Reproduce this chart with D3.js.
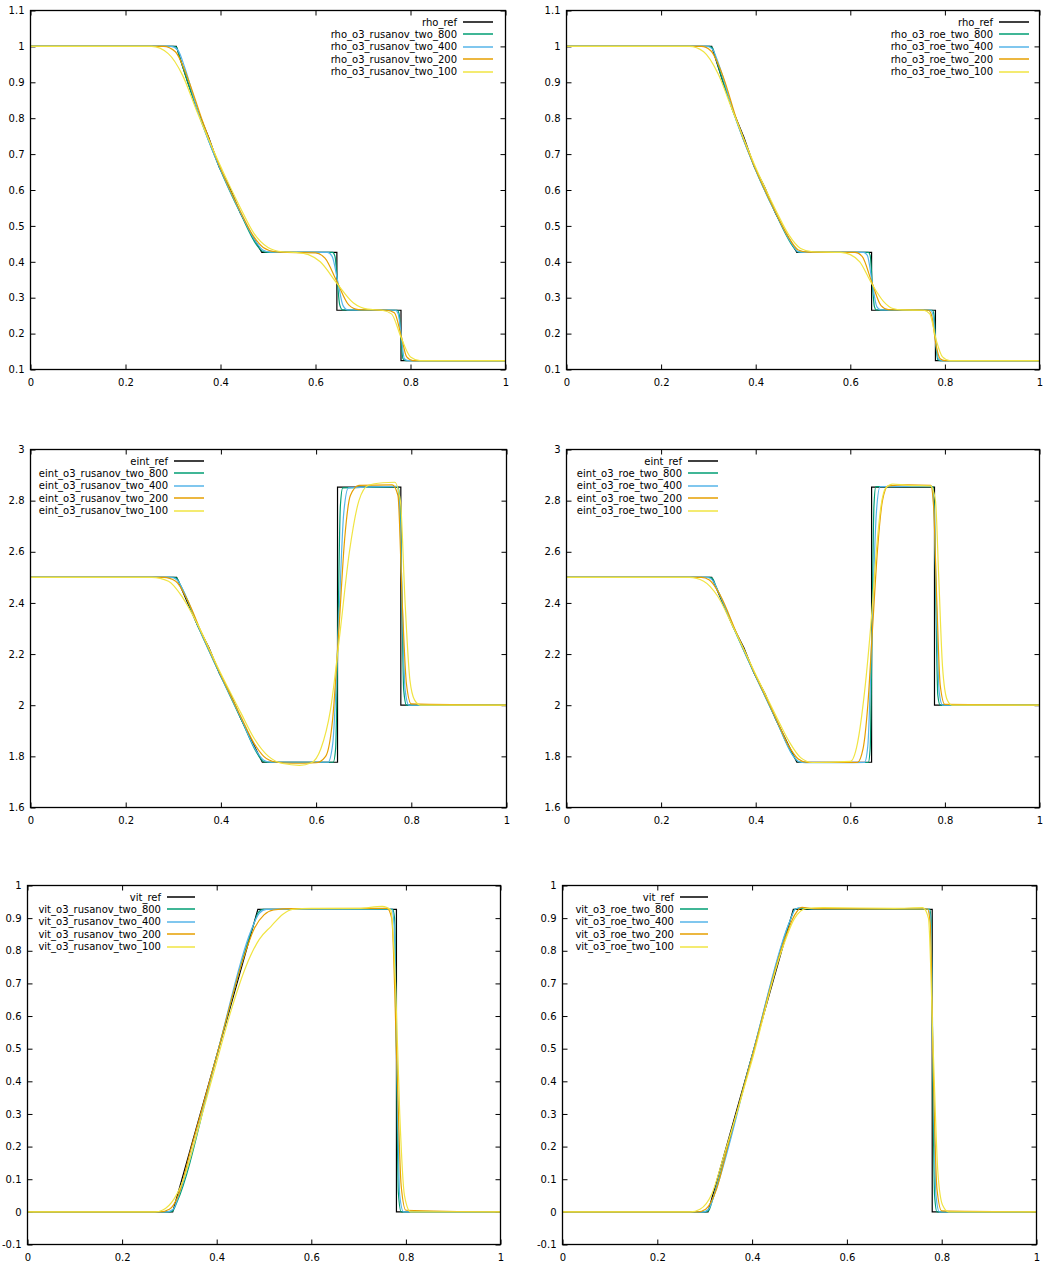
<!DOCTYPE html>
<html>
<head>
<meta charset="utf-8">
<script src="https://cdn.jsdelivr.net/npm/d3@7"></script>
<style>
  body { margin: 0; background: #fff; }
  svg { display: block; font-family: "DejaVu Sans", sans-serif; }
</style>
</head>
<body>
<div id="chart"></div>
<script>
// tick values
var xTicks = [0, 0.2, 0.4, 0.6, 0.8, 1];
var rhoTicks = [0.1, 0.2, 0.3, 0.4, 0.5, 0.6, 0.7, 0.8, 0.9, 1, 1.1];
var eintTicks = [1.6, 1.8, 2, 2.2, 2.4, 2.6, 2.8, 3];
var vitTicks = [-0.1, 0, 0.1, 0.2, 0.3, 0.4, 0.5, 0.6, 0.7, 0.8, 0.9, 1];

var resolutions = ["800", "400", "200", "100"];

// reference solutions
var rhoRef = [[0,1],[0.307,1],[0.33,0.904],[0.352,0.82],[0.375,0.747],[0.397,0.665],[0.42,0.605],[0.442,0.535],[0.465,0.477],[0.487,0.426],[0.645,0.426],[0.645,0.265],[0.78,0.265],[0.78,0.125],[1,0.125]];
var eintRef = [[0,2.5],[0.307,2.5],[0.33,2.401],[0.352,2.308],[0.375,2.225],[0.397,2.124],[0.42,2.044],[0.442,1.947],[0.465,1.86],[0.487,1.777],[0.645,1.777],[0.645,2.853],[0.778,2.853],[0.778,2.0],[1,2.0]];
var vitRef = [[0,0],[0.307,0],[0.487,0.927],[0.78,0.927],[0.78,0],[1,0]];

// rusanov
var rhoRus800 = [[0,1],[0.3,1],[0.307,0.998],[0.315,0.965],[0.352,0.82],[0.397,0.665],[0.442,0.535],[0.48,0.44],[0.49,0.428],[0.5,0.426],[0.636,0.426],[0.641,0.415],[0.646,0.345],[0.651,0.28],[0.657,0.266],[0.772,0.265],[0.776,0.255],[0.78,0.19],[0.784,0.13],[0.79,0.125],[1,0.125]];
var rhoRus400 = [[0,1],[0.295,1],[0.31,0.99],[0.325,0.94],[0.352,0.82],[0.397,0.666],[0.442,0.537],[0.475,0.455],[0.49,0.432],[0.505,0.427],[0.625,0.426],[0.635,0.415],[0.647,0.345],[0.658,0.278],[0.668,0.266],[0.768,0.265],[0.774,0.255],[0.781,0.19],[0.787,0.13],[0.795,0.125],[1,0.125]];
var rhoRus200 = [[0,1],[0.28,1],[0.305,0.985],[0.33,0.915],[0.36,0.8],[0.397,0.67],[0.442,0.54],[0.47,0.47],[0.49,0.44],[0.515,0.428],[0.54,0.426],[0.6,0.425],[0.62,0.41],[0.645,0.345],[0.67,0.28],[0.69,0.267],[0.75,0.265],[0.766,0.258],[0.781,0.19],[0.792,0.135],[0.805,0.125],[1,0.125]];
var rhoRus100 = [[0,1],[0.255,1],[0.29,0.98],[0.32,0.92],[0.35,0.82],[0.397,0.675],[0.442,0.55],[0.47,0.48],[0.5,0.44],[0.53,0.428],[0.56,0.426],[0.585,0.42],[0.61,0.4],[0.645,0.34],[0.68,0.285],[0.71,0.268],[0.74,0.265],[0.76,0.255],[0.78,0.19],[0.8,0.135],[0.82,0.125],[1,0.125]];

var eintRus800 = [[0,2.5],[0.3,2.5],[0.307,2.497],[0.315,2.47],[0.352,2.308],[0.397,2.124],[0.442,1.947],[0.48,1.8],[0.49,1.779],[0.5,1.777],[0.636,1.777],[0.641,1.83],[0.646,2.3],[0.651,2.78],[0.656,2.85],[0.772,2.854],[0.776,2.8],[0.78,2.45],[0.784,2.06],[0.79,2.0],[1,2.0]];
var eintRus400 = [[0,2.5],[0.295,2.5],[0.308,2.49],[0.322,2.445],[0.352,2.31],[0.397,2.126],[0.442,1.95],[0.475,1.82],[0.49,1.785],[0.505,1.777],[0.625,1.777],[0.635,1.85],[0.647,2.3],[0.658,2.75],[0.668,2.85],[0.77,2.856],[0.775,2.78],[0.781,2.4],[0.787,2.06],[0.795,2.0],[1,2.0]];
var eintRus200 = [[0,2.5],[0.28,2.5],[0.305,2.485],[0.33,2.41],[0.36,2.28],[0.397,2.13],[0.442,1.955],[0.47,1.85],[0.49,1.8],[0.515,1.778],[0.55,1.773],[0.6,1.775],[0.62,1.8],[0.635,1.95],[0.648,2.3],[0.66,2.65],[0.672,2.82],[0.69,2.86],[0.76,2.862],[0.772,2.82],[0.781,2.4],[0.79,2.08],[0.8,2.005],[1,2.0]];
var eintRus100 = [[0,2.5],[0.255,2.5],[0.29,2.485],[0.32,2.42],[0.35,2.32],[0.397,2.135],[0.442,1.97],[0.47,1.87],[0.5,1.8],[0.53,1.772],[0.565,1.765],[0.59,1.775],[0.61,1.83],[0.63,1.98],[0.65,2.28],[0.67,2.6],[0.69,2.8],[0.71,2.86],[0.74,2.87],[0.765,2.872],[0.777,2.8],[0.787,2.4],[0.797,2.1],[0.807,2.02],[0.82,2.0],[1,2.0]];

var vitRus800 = [[0,0],[0.3,0],[0.307,0.003],[0.316,0.03],[0.4,0.479],[0.478,0.88],[0.488,0.918],[0.498,0.927],[0.772,0.927],[0.776,0.9],[0.78,0.5],[0.784,0.06],[0.79,0],[1,0]];
var vitRus400 = [[0,0],[0.295,0],[0.308,0.008],[0.322,0.06],[0.4,0.479],[0.472,0.86],[0.49,0.915],[0.505,0.927],[0.77,0.928],[0.775,0.88],[0.781,0.45],[0.787,0.05],[0.795,0],[1,0]];
var vitRus200 = [[0,0],[0.28,0],[0.3,0.008],[0.32,0.055],[0.345,0.19],[0.4,0.478],[0.455,0.77],[0.48,0.87],[0.5,0.91],[0.52,0.925],[0.56,0.929],[0.76,0.93],[0.77,0.9],[0.781,0.45],[0.79,0.08],[0.8,0.005],[1,0]];
var vitRus100 = [[0,0],[0.27,0],[0.285,0.005],[0.31,0.04],[0.33,0.1],[0.36,0.25],[0.4,0.46],[0.43,0.615],[0.46,0.745],[0.49,0.835],[0.515,0.875],[0.54,0.912],[0.56,0.927],[0.6,0.93],[0.7,0.93],[0.75,0.936],[0.768,0.925],[0.778,0.7],[0.787,0.3],[0.797,0.05],[0.81,0],[1,0]];

// roe
var rhoRoe800 = [[0,1],[0.302,1],[0.309,0.995],[0.316,0.965],[0.352,0.82],[0.397,0.665],[0.442,0.535],[0.482,0.437],[0.49,0.427],[0.5,0.426],[0.638,0.426],[0.642,0.418],[0.646,0.35],[0.651,0.275],[0.655,0.266],[0.774,0.265],[0.777,0.25],[0.781,0.17],[0.785,0.127],[0.79,0.125],[1,0.125]];
var rhoRoe400 = [[0,1],[0.297,1],[0.308,0.993],[0.322,0.95],[0.352,0.82],[0.397,0.665],[0.442,0.536],[0.478,0.447],[0.49,0.428],[0.503,0.426],[0.628,0.426],[0.636,0.418],[0.646,0.345],[0.656,0.275],[0.664,0.266],[0.77,0.265],[0.775,0.25],[0.781,0.17],[0.787,0.128],[0.795,0.125],[1,0.125]];
var rhoRoe200 = [[0,1],[0.285,1],[0.305,0.988],[0.33,0.92],[0.36,0.795],[0.397,0.667],[0.442,0.538],[0.47,0.467],[0.49,0.433],[0.51,0.427],[0.61,0.426],[0.625,0.415],[0.645,0.345],[0.665,0.278],[0.68,0.267],[0.765,0.265],[0.772,0.25],[0.781,0.17],[0.79,0.13],[0.8,0.125],[1,0.125]];
var rhoRoe100 = [[0,1],[0.26,1],[0.29,0.985],[0.32,0.925],[0.35,0.825],[0.397,0.672],[0.442,0.545],[0.47,0.475],[0.495,0.437],[0.52,0.428],[0.58,0.426],[0.6,0.42],[0.62,0.4],[0.645,0.34],[0.67,0.29],[0.69,0.27],[0.71,0.266],[0.755,0.265],[0.768,0.255],[0.781,0.185],[0.795,0.135],[0.81,0.125],[1,0.125]];

var eintRoe800 = [[0,2.5],[0.302,2.5],[0.309,2.495],[0.316,2.465],[0.352,2.308],[0.397,2.124],[0.442,1.947],[0.482,1.795],[0.49,1.779],[0.5,1.776],[0.638,1.776],[0.642,1.83],[0.646,2.3],[0.65,2.78],[0.654,2.855],[0.775,2.855],[0.778,2.75],[0.781,2.4],[0.785,2.04],[0.79,2.0],[1,2.0]];
var eintRoe400 = [[0,2.5],[0.297,2.5],[0.308,2.49],[0.322,2.44],[0.352,2.31],[0.397,2.125],[0.442,1.948],[0.478,1.805],[0.492,1.779],[0.505,1.775],[0.63,1.776],[0.637,1.84],[0.646,2.3],[0.655,2.75],[0.663,2.855],[0.772,2.857],[0.777,2.76],[0.782,2.4],[0.788,2.05],[0.795,2.0],[1,2.0]];
var eintRoe200 = [[0,2.5],[0.285,2.5],[0.302,2.49],[0.325,2.43],[0.36,2.28],[0.397,2.128],[0.442,1.952],[0.47,1.84],[0.49,1.79],[0.51,1.776],[0.615,1.776],[0.627,1.83],[0.637,2.0],[0.647,2.3],[0.658,2.62],[0.668,2.8],[0.68,2.858],[0.72,2.862],[0.77,2.86],[0.776,2.78],[0.783,2.4],[0.79,2.08],[0.8,2.003],[1,2.0]];
var eintRoe100 = [[0,2.5],[0.26,2.5],[0.29,2.485],[0.32,2.425],[0.35,2.315],[0.397,2.132],[0.442,1.962],[0.47,1.86],[0.495,1.795],[0.52,1.776],[0.6,1.78],[0.615,1.85],[0.63,2.05],[0.645,2.35],[0.655,2.6],[0.665,2.78],[0.675,2.85],[0.69,2.865],[0.72,2.86],[0.77,2.858],[0.78,2.8],[0.787,2.5],[0.795,2.15],[0.805,2.02],[0.815,2.0],[1,2.0]];

var vitRoe800 = [[0,0],[0.302,0],[0.309,0.005],[0.316,0.035],[0.4,0.479],[0.482,0.9],[0.49,0.927],[0.498,0.93],[0.52,0.928],[0.775,0.927],[0.778,0.88],[0.781,0.45],[0.785,0.05],[0.79,0],[1,0]];
var vitRoe400 = [[0,0],[0.297,0],[0.308,0.008],[0.322,0.06],[0.4,0.479],[0.478,0.885],[0.492,0.928],[0.505,0.932],[0.53,0.928],[0.772,0.928],[0.777,0.88],[0.782,0.45],[0.788,0.05],[0.795,0],[1,0]];
var vitRoe200 = [[0,0],[0.285,0],[0.302,0.008],[0.325,0.07],[0.35,0.21],[0.4,0.475],[0.47,0.84],[0.49,0.91],[0.505,0.933],[0.53,0.929],[0.77,0.928],[0.776,0.88],[0.782,0.45],[0.79,0.07],[0.8,0.003],[1,0]];
var vitRoe100 = [[0,0],[0.27,0],[0.29,0.008],[0.315,0.055],[0.34,0.17],[0.4,0.465],[0.46,0.79],[0.49,0.9],[0.515,0.93],[0.55,0.932],[0.7,0.93],[0.76,0.932],[0.772,0.9],[0.782,0.5],[0.792,0.12],[0.802,0.02],[0.815,0],[1,0]];

var colors = ["#000000", "#009e73", "#56b4e9", "#e69f00", "#f0e442"];

var W = 1043, H = 1263;

// keyX = right end of the key text
var panels = [
  { l: 30, r: 505, t: 10, b: 369, dom: [0.1, 1.1], ticks: rhoTicks, keyX: 457, sample: 30,
    names: ["rho_ref"].concat(resolutions.map(n => "rho_o3_rusanov_two_" + n)),
    data: [rhoRef, rhoRus800, rhoRus400, rhoRus200, rhoRus100] },
  { l: 566, r: 1039, t: 10, b: 369, dom: [0.1, 1.1], ticks: rhoTicks, keyX: 993, sample: 30,
    names: ["rho_ref"].concat(resolutions.map(n => "rho_o3_roe_two_" + n)),
    data: [rhoRef, rhoRoe800, rhoRoe400, rhoRoe200, rhoRoe100] },
  { l: 30, r: 506, t: 449, b: 807, dom: [1.6, 3], ticks: eintTicks, keyX: 168, sample: 30,
    names: ["eint_ref"].concat(resolutions.map(n => "eint_o3_rusanov_two_" + n)),
    data: [eintRef, eintRus800, eintRus400, eintRus200, eintRus100] },
  { l: 566, r: 1039, t: 449, b: 807, dom: [1.6, 3], ticks: eintTicks, keyX: 682, sample: 30,
    names: ["eint_ref"].concat(resolutions.map(n => "eint_o3_roe_two_" + n)),
    data: [eintRef, eintRoe800, eintRoe400, eintRoe200, eintRoe100] },
  { l: 27, r: 500, t: 885, b: 1244, dom: [-0.1, 1], ticks: vitTicks, keyX: 161, sample: 28,
    names: ["vit_ref"].concat(resolutions.map(n => "vit_o3_rusanov_two_" + n)),
    data: [vitRef, vitRus800, vitRus400, vitRus200, vitRus100] },
  { l: 562, r: 1036, t: 885, b: 1244, dom: [-0.1, 1], ticks: vitTicks, keyX: 674, sample: 28,
    names: ["vit_ref"].concat(resolutions.map(n => "vit_o3_roe_two_" + n)),
    data: [vitRef, vitRoe800, vitRoe400, vitRoe200, vitRoe100] }
];

var svg = d3.select("#chart").append("svg")
  .attr("width", W)
  .attr("height", H);

svg.append("rect").attr("width", W).attr("height", H).attr("fill", "#fff");

var fmt = function (d) { return String(d); };

panels.forEach(function (p, pi) {
  var x = d3.scaleLinear().domain([0, 1]).range([p.l, p.r]);
  var y = d3.scaleLinear().domain(p.dom).range([p.b, p.t]);

  var g = svg.append("g").attr("transform", "translate(0.5,0.5)");

  // clip to plot area
  var clipId = "clip" + pi;
  svg.append("clipPath").attr("id", clipId)
    .append("rect")
    .attr("x", p.l).attr("y", p.t)
    .attr("width", p.r - p.l).attr("height", p.b - p.t);

  // axes, ticks inward and mirrored
  g.append("g")
    .attr("transform", "translate(0," + p.b + ")")
    .call(d3.axisBottom(x).tickValues(xTicks).tickFormat(fmt).tickSize(-5).tickPadding(9))
    .call(a => a.select(".domain").remove());
  g.append("g")
    .attr("transform", "translate(0," + p.t + ")")
    .call(d3.axisTop(x).tickValues(xTicks).tickFormat("").tickSize(-5))
    .call(a => a.select(".domain").remove());
  g.append("g")
    .attr("transform", "translate(" + p.l + ",0)")
    .call(d3.axisLeft(y).tickValues(p.ticks).tickFormat(fmt).tickSize(-5).tickPadding(6))
    .call(a => a.select(".domain").remove());
  g.append("g")
    .attr("transform", "translate(" + p.r + ",0)")
    .call(d3.axisRight(y).tickValues(p.ticks).tickFormat("").tickSize(-5))
    .call(a => a.select(".domain").remove());

  g.selectAll(".tick text").attr("fill", "#000").style("font-size", "10px").style("font-family", "'DejaVu Sans', sans-serif");
  g.selectAll(".tick line").attr("stroke", "#000");

  // series
  var plot = g.append("g").attr("clip-path", "url(#" + clipId + ")");
  p.data.forEach(function (d, i) {
    var line = d3.line()
      .x(v => x(v[0]))
      .y(v => y(v[1]))
      .curve(i === 0 ? d3.curveLinear : d3.curveMonotoneX);
    plot.append("path")
      .datum(d)
      .attr("fill", "none")
      .attr("stroke", colors[i])
      .attr("stroke-width", 1.2)
      .attr("d", line);
  });

  // frame
  g.append("rect")
    .attr("x", p.l).attr("y", p.t)
    .attr("width", p.r - p.l).attr("height", p.b - p.t)
    .attr("fill", "none")
    .attr("stroke", "#000")
    .attr("stroke-width", 1.3);

  // key
  var key = svg.append("g").style("font-size", "10px");
  key.selectAll("text")
    .data(p.names)
    .join("text")
    .attr("x", p.keyX)
    .attr("y", (d, i) => p.t + 12 + i * 12.4)
    .attr("dy", "0.35em")
    .attr("text-anchor", "end")
    .attr("fill", "#000")
    .text(d => d);
  key.selectAll("line")
    .data(p.names)
    .join("line")
    .attr("x1", p.keyX + 6)
    .attr("x2", p.keyX + 6 + p.sample)
    .attr("y1", (d, i) => Math.round(p.t + 12 + i * 12.4))
    .attr("y2", (d, i) => Math.round(p.t + 12 + i * 12.4))
    .attr("stroke", (d, i) => colors[i])
    .attr("stroke-width", 1.5);
});
</script>
</body>
</html>
